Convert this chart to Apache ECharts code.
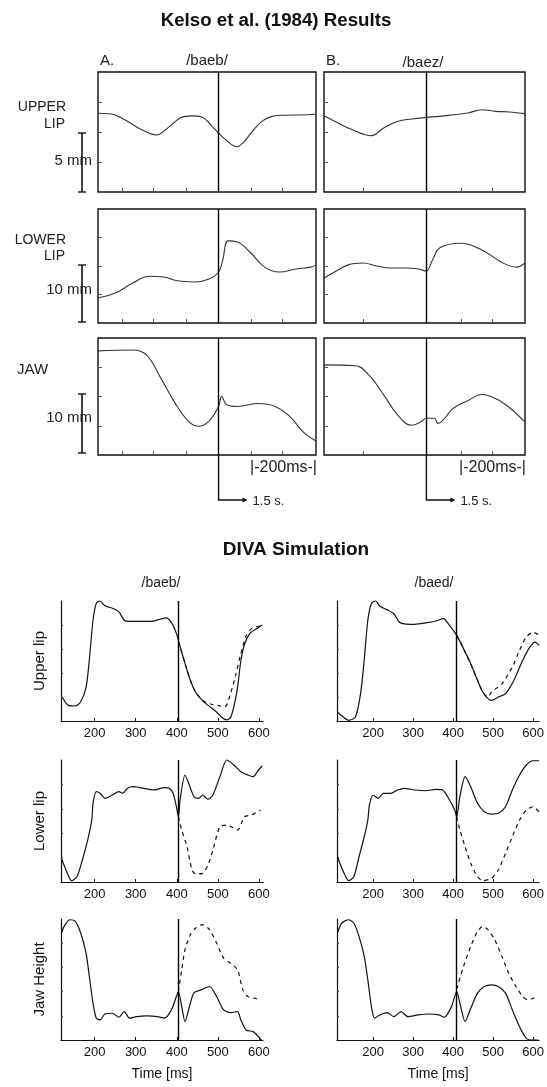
<!DOCTYPE html>
<html><head><meta charset="utf-8">
<script src="https://cdn.jsdelivr.net/npm/echarts@6/dist/echarts.min.js"></script>
<style>html,body{margin:0;padding:0;background:#fff}#c{width:547px;height:1087px}</style>
</head><body><div id="c"></div>
<script>
// ---------------- DATA ----------------
// Kelso et al. (1984): time (ms, relative) vs normalized position (0-100 of panel)
const kelsoUpperBaeb = [[0,65.6],[39,65],[80,60],[121,53],[172,47.5],[203,53],[244,62],[275,63.4],[306,62.3],[331,56],[354,49],[377,43],[408,37.7],[429,42],[449,49],[480,58.7],[511,63],[552,64],[593,64.2],[640,64.8]];
const kelsoUpperBaez = [[0,63.6],[45,57.5],[89,52],[151,47],[190,53.3],[235,59],[280,60.8],[326,62.2],[368,63],[413,64.4],[458,65.8],[503,68.6],[547,67.2],[592,66.7],[640,65.3]];
const kelsoLowerBaeb = [[0,22],[49,26],[102,35],[151,41],[194,40.4],[234,37],[286,36],[326,38.6],[354,44.7],[366,55],[382,72],[409,71],[449,61.4],[489,49],[532,44.7],[582,47.4],[625,49],[640,51]];
const kelsoLowerBaez = [[0,39.5],[34,44.7],[77,51],[124,52.6],[168,50],[211,48.2],[258,48.2],[302,47.4],[325,45.6],[345,55],[369,66],[436,70],[503,64],[570,52.6],[613,49],[640,52.6]];
const kelsoJawBaeb = [[0,89],[102,89.8],[142,85.6],[182,67],[225,45],[265,29],[295,24.6],[326,29],[354,41.5],[363,50],[378,43],[409,41.5],[471,44],[520,41.5],[563,33],[603,19.5],[640,12]];
const kelsoJawBaez = [[0,77],[101,76.3],[144,68],[191,51],[235,34],[278,25.4],[312,28.8],[325,31.4],[352,31.4],[362,27],[412,40],[459,46.6],[503,51.7],[546,48.3],[593,40],[640,28]];
const kelsoMarkerA = 354;   // onset line, column A
const kelsoMarkerB = 326;   // onset line, column B
const kelsoTicksA = [71,163,258,449,542];
const kelsoTicksB = [124,436,536];

// DIVA simulation: time (ms) vs normalized position (0-100)
const upperBaebSolid = [[121,20],[136,13],[153,12.5],[166,16],[179,28],[187,51],[196,84],[204,98],[213,100],[225,96],[243,94],[259,91],[272,84],[285,83],[310,83],[336,83],[361,85],[374,86],[387,82],[399,73],[408,62],[420,48],[433,34],[446,24],[463,17],[480,12],[497,7.5],[510,3],[522,1],[531,3],[539,12],[548,28],[556,50],[565,64],[578,73],[595,77],[608,80]];
const upperBaebDashed = [[404,66],[408,62],[420,48],[433,34],[446,24],[463,17],[484,14],[500,13],[517,11.7],[531,23],[544,39],[556,56],[569,71],[582,77],[599,79],[608,80]];
const upperBaedSolid = [[111,7.5],[126,3.3],[139,0.6],[156,3.3],[169,23],[178,51],[187,84],[196,98],[207,100],[217,95.6],[235,92.8],[252,89.4],[265,82.5],[278,81],[304,80.6],[331,81.7],[357,83.3],[376,85.3],[391,79.7],[409,71.4],[426,60.3],[444,47.8],[461,34],[474,24.2],[487,18.6],[496,17.2],[513,20],[531,22.8],[552,34],[574,50.6],[592,61.7],[605,65.8],[615,63]];
const upperBaedDashed = [[409,71.4],[426,60.3],[444,47.8],[461,34],[474,24.2],[487,20],[496,24.2],[522,31],[548,45],[566,59],[583,70],[600,74],[615,71.4]];
const lowerBaebSolid = [[119,19.4],[132,8.4],[144,1.1],[157,4.3],[170,18],[183,34.4],[193,50.8],[196,64.5],[204,74],[213,72.7],[225,68.6],[243,71.3],[259,74],[268,72.7],[280,76.8],[293,78.1],[319,76.8],[344,75.4],[370,77.3],[382,76.8],[391,72.7],[399,61.7],[404,53.5],[408,67.2],[420,87.7],[429,80.9],[442,69.9],[454,68.6],[463,71.3],[476,67.8],[488,71.3],[505,86.3],[522,100],[539,95.9],[556,90.4],[573,87.7],[586,86.3],[599,91.8],[608,95.1]];
const lowerBaebDashed = [[404,53.5],[412,42.6],[425,28.9],[437,9.8],[446,6.6],[463,7.1],[476,13.9],[488,26.2],[505,45.3],[522,46.7],[548,42.6],[565,53.5],[582,54.9],[604,59]];
const lowerBaedSolid = [[111,20.7],[126,8.4],[139,1.1],[152,4.3],[165,20.7],[178,37.1],[187,50.8],[191,63.1],[200,71.3],[213,68.6],[226,72.7],[244,72.7],[261,75.4],[278,76.8],[304,75.4],[331,74.8],[357,76],[374,75.4],[391,67.2],[404,59],[409,53.5],[417,69.9],[430,86.3],[444,78.1],[461,64.5],[478,57.6],[496,55.7],[513,56.3],[531,61.7],[548,75.4],[566,87.7],[583,95.9],[600,99.4],[615,99.4]];
const lowerBaedDashed = [[409,53.5],[417,42.6],[430,28.9],[444,15.3],[461,4.3],[474,1.1],[496,3],[513,9.8],[531,23.5],[548,37.1],[566,50.8],[583,59],[600,61.7],[615,57.4]];
const jawBaebSolid = [[119,88.4],[128,95.3],[140,99.4],[153,98.1],[166,88.4],[179,71.8],[187,52.5],[196,30.4],[204,18],[213,16.6],[225,21.5],[243,22.1],[259,18.8],[272,23.5],[285,18],[302,19.3],[327,19.9],[353,19.3],[370,18],[387,24.9],[399,35.9],[404,40.1],[412,27.6],[420,15.2],[433,30.4],[442,39.2],[459,41.4],[480,44.2],[497,35.9],[514,24.9],[531,22.7],[548,23.5],[556,16.6],[569,8.3],[586,6.9],[599,2.8],[606,0]];
const jawBaebDashed = [[404,40.1],[412,58],[420,74.6],[433,87],[446,92.5],[463,95.3],[480,91.2],[497,80.1],[514,67.7],[531,63.5],[548,58],[561,41.4],[573,35.9],[590,34.5],[603,33.1]];
const jawBaedSolid = [[111,88.4],[122,96.7],[139,99.4],[152,96.7],[165,85.6],[178,69.1],[187,49.7],[196,27.6],[204,18],[217,20.7],[235,22.7],[252,19.3],[270,23.5],[287,19.3],[313,20.7],[339,21.5],[365,20.7],[378,18.8],[396,27.6],[409,40.1],[417,30.4],[430,15.2],[444,26.2],[461,38.7],[478,44.2],[496,45.6],[513,44.2],[531,38.7],[548,24.9],[566,11],[583,1.4],[600,0],[613,0]];
const jawBaedDashed = [[409,42],[426,60.8],[444,77.3],[461,89.8],[474,93.9],[487,91.2],[504,82.9],[522,69.1],[539,55.2],[557,44.2],[574,35.9],[587,33.1],[600,34.5],[613,35.9]];
const divaMarkerLeft = 404;
const divaMarkerRight = 409;
const divaTickLabels = [200,300,400,500,600];
const divaRangeLeft = [118,610];
const divaRangeRight = [110,615];
const divaRowNames = ['Upper lip','Lower lip','Jaw Height'];

// ---------------- LAYOUT ----------------
const FONT = "'Liberation Sans Narrow','Liberation Sans',Arial,sans-serif";
const kCols = [{left:98,width:218},{left:324,width:201}];
const kRows = [{top:72,height:120},{top:209,height:114},{top:338,height:117}];
const dCols = [{left:61,width:202},{left:337,width:203}];
const dRows = [{top:601,height:120},{top:760,height:122},{top:919,height:121}];

const grids = [], xAxes = [], yAxes = [], series = [];

function markV(x){
  return {silent:true, symbol:['none','none'], label:{show:false},
    lineStyle:{color:'#000',width:1.4,type:'solid'}, emphasis:{disabled:true}, data:[{xAxis:x}]};
}

// Kelso panels
const kelsoData = [[kelsoUpperBaeb,kelsoUpperBaez],[kelsoLowerBaeb,kelsoLowerBaez],[kelsoJawBaeb,kelsoJawBaez]];
kRows.forEach((r,ri)=>{
  kCols.forEach((c,ci)=>{
    const gi = grids.length;
    grids.push({left:c.left, width:c.width, top:r.top, height:r.height, show:true, borderColor:'#111', borderWidth:1.4, backgroundColor:'transparent'});
    xAxes.push({gridIndex:gi, type:'value', min:0, max:640, axisLine:{show:false},
      axisTick:{show:true, inside:true, length:4, customValues: ci===0?kelsoTicksA:kelsoTicksB, lineStyle:{color:'#555'}},
      axisLabel:{show:false}, splitLine:{show:false}});
    yAxes.push({gridIndex:gi, type:'value', min:0, max:100, axisLine:{show:false},
      axisTick:{show:true, inside:true, length:4, customValues:[25,50,75], lineStyle:{color:'#555'}},
      axisLabel:{show:false}, splitLine:{show:false}});
    series.push({type:'line', xAxisIndex:gi, yAxisIndex:gi, data:kelsoData[ri][ci], smooth:0.4, showSymbol:false,
      lineStyle:{color:'#333', width:1.1}, silent:true, markLine: markV(ci===0?kelsoMarkerA:kelsoMarkerB)});
  });
});

// DIVA panels
const divaSolid = [[upperBaebSolid,upperBaedSolid],[lowerBaebSolid,lowerBaedSolid],[jawBaebSolid,jawBaedSolid]];
const divaDashed = [[upperBaebDashed,upperBaedDashed],[lowerBaebDashed,lowerBaedDashed],[jawBaebDashed,jawBaedDashed]];
dRows.forEach((r,ri)=>{
  dCols.forEach((c,ci)=>{
    const gi = grids.length;
    const rng = ci===0?divaRangeLeft:divaRangeRight;
    grids.push({left:c.left, width:c.width, top:r.top, height:r.height, show:false});
    xAxes.push({gridIndex:gi, type:'value', min:rng[0], max:rng[1],
      axisLine:{show:true, onZero:false, lineStyle:{color:'#111', width:1.2}},
      axisTick:{show:true, inside:true, length:3, customValues:divaTickLabels, lineStyle:{color:'#111'}},
      axisLabel:{show:true, customValues:divaTickLabels, fontSize:13, fontFamily:FONT, color:'#111', margin:6},
      splitLine:{show:false},
      name: ri===2 ? 'Time [ms]' : '', nameLocation:'middle', nameGap:27,
      nameTextStyle:{fontSize:14, fontFamily:FONT, color:'#111'}});
    yAxes.push({gridIndex:gi, type:'value', min:0, max:100,
      axisLine:{show:true, onZero:false, lineStyle:{color:'#111', width:1.2}},
      axisTick:{show:true, inside:true, length:2, customValues:[20,40,60,80], lineStyle:{color:'#444'}},
      axisLabel:{show:false}, splitLine:{show:false},
      name: ci===0 ? divaRowNames[ri] : '', nameLocation:'middle', nameRotate:90, nameGap:14,
      nameTextStyle:{fontSize:15, fontFamily:FONT, color:'#111'}});
    series.push({type:'line', xAxisIndex:gi, yAxisIndex:gi, data:divaSolid[ri][ci], smooth:0.25, showSymbol:false,
      lineStyle:{color:'#111', width:1.2}, silent:true, clip:false,
      markLine: markV(ci===0?divaMarkerLeft:divaMarkerRight)});
    series.push({type:'line', xAxisIndex:gi, yAxisIndex:gi, data:divaDashed[ri][ci], smooth:0.25, showSymbol:false,
      lineStyle:{color:'#111', width:1.2, type:[4,4]}, silent:true, clip:false});
  });
});

const chart = echarts.init(document.getElementById('c'), null, {renderer:'canvas'});
chart.setOption({animation:false, backgroundColor:'#fff', grid:grids, xAxis:xAxes, yAxis:yAxes, series:series});

// ---------------- ANNOTATIONS ----------------
function txt(x,y,text,opt){
  opt = opt||{};
  return {type:'text', x:x, y:y, silent:true, style:{text:text, fill:opt.fill||'#222',
    font:(opt.weight||'normal')+' '+(opt.size||14)+'px '+(opt.family||FONT),
    textAlign:opt.align||'left', textVerticalAlign:'middle'}};
}
function scaleBar(x,y1,y2){
  return [
    {type:'line', silent:true, shape:{x1:x,y1:y1,x2:x,y2:y2}, style:{stroke:'#111',lineWidth:1.6}},
    {type:'line', silent:true, shape:{x1:x-4,y1:y1,x2:x+4,y2:y1}, style:{stroke:'#111',lineWidth:1.4}},
    {type:'line', silent:true, shape:{x1:x-4,y1:y2,x2:x+4,y2:y2}, style:{stroke:'#111',lineWidth:1.4}}
  ];
}
const g = [];
const TITLEFONT = "'Liberation Sans',Arial,sans-serif";
g.push(txt(276,21,'Kelso et al. (1984) Results',{weight:'bold',size:18.7,align:'center',family:TITLEFONT,fill:'#111'}));
g.push(txt(100,61,'A.',{size:15}));
g.push(txt(207,61,'/baeb/',{size:15,align:'center'}));
g.push(txt(326,61,'B.',{size:15}));
g.push(txt(423,63,'/baez/',{size:15,align:'center'}));
g.push(txt(66,107,'UPPER',{size:14,align:'right'}));
g.push(txt(65,124,'LIP',{size:14,align:'right'}));
g.push(txt(66,240,'LOWER',{size:14,align:'right'}));
g.push(txt(65,256,'LIP',{size:14,align:'right'}));
g.push(txt(17,370,'JAW',{size:15}));
g.push(txt(92,161,'5 mm',{size:15,align:'right'}));
g.push(txt(92,290,'10 mm',{size:15,align:'right'}));
g.push(txt(92,418,'10 mm',{size:15,align:'right'}));
g.push(...scaleBar(82,133,192));
g.push(...scaleBar(82,265,322));
g.push(...scaleBar(82,394,453));

// onset lines extended below the jaw panels with 1.5 s arrow
[[4,kelsoMarkerA],[5,kelsoMarkerB]].forEach(([ai,val])=>{
  const px = chart.convertToPixel({xAxisIndex:ai}, val);
  const bottom = kRows[2].top + kRows[2].height;
  g.push({type:'polyline', silent:true, shape:{points:[[px,bottom],[px,500],[px+25,500]]}, style:{stroke:'#111',lineWidth:1.4,fill:null}});
  g.push({type:'polygon', silent:true, shape:{points:[[px+24,497.5],[px+29,500],[px+24,502.5]]}, style:{fill:'#111'}});
  g.push(txt(px+34,501,'1.5 s.',{size:13}));
});
g.push(txt(kCols[0].left+kCols[0].width+1,468,'|-200ms-|',{size:16,align:'right'}));
g.push(txt(kCols[1].left+kCols[1].width+1,468,'|-200ms-|',{size:16,align:'right'}));

g.push(txt(296,550,'DIVA Simulation',{weight:'bold',size:19,align:'center',family:TITLEFONT,fill:'#111'}));
g.push(txt(161,583,'/baeb/',{size:14,align:'center'}));
g.push(txt(434,583,'/baed/',{size:14,align:'center'}));

chart.setOption({graphic:{elements:g}});
</script>
</body></html>
